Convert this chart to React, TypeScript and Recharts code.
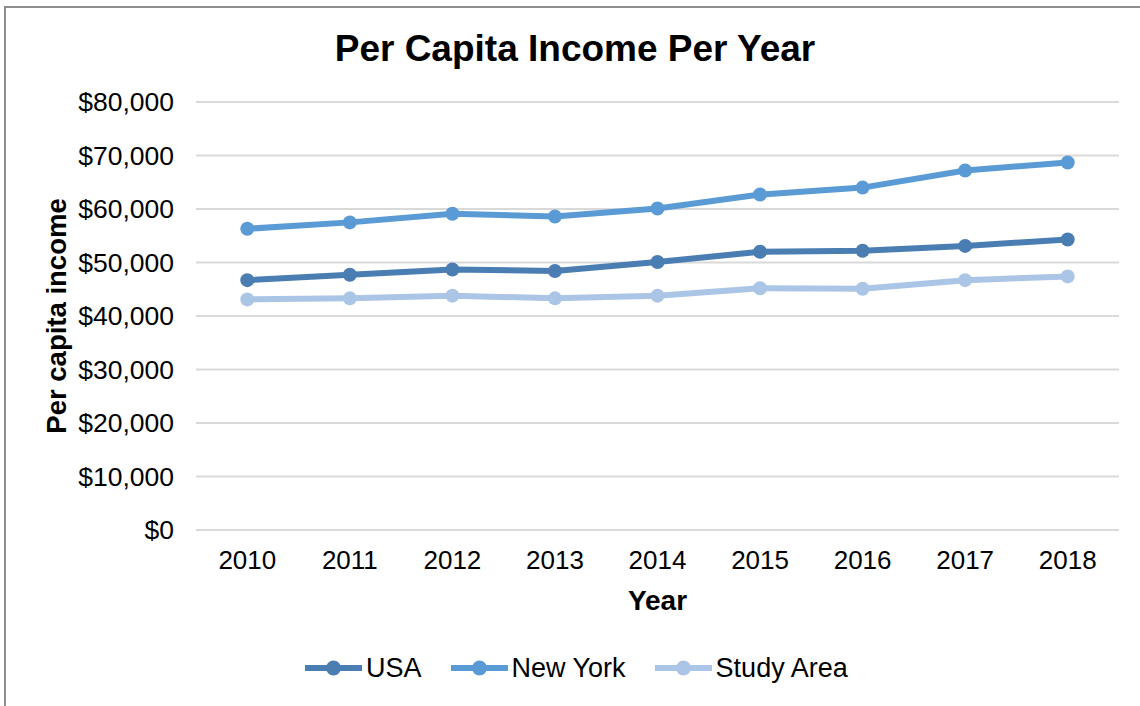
import React from 'react';
import { LineChart, Line, XAxis, YAxis, CartesianGrid } from 'recharts';

const years = ['2010', '2011', '2012', '2013', '2014', '2015', '2016', '2017', '2018'];
const usa = [46700, 47700, 48700, 48400, 50100, 52000, 52200, 53100, 54300];
const newYork = [56300, 57500, 59100, 58600, 60100, 62700, 64000, 67200, 68700];
const studyArea = [43100, 43300, 43800, 43300, 43800, 45200, 45100, 46700, 47400];
const yTicks = [0, 10000, 20000, 30000, 40000, 50000, 60000, 70000, 80000];

const seriesNames = ['USA', 'New York', 'Study Area'];
const seriesKeys = ['usa', 'newYork', 'studyArea'];
const seriesColors = ['#4A7EB3', '#5B9BD5', '#ABC5E6'];

const data = years.map((year, i) => ({
  year,
  usa: usa[i],
  newYork: newYork[i],
  studyArea: studyArea[i],
}));

const FONT = '"Liberation Sans", Arial, Helvetica, sans-serif';

const fmt = (v: number) => '$' + v.toLocaleString('en-US');

export default function App() {
  return (
    <div
      style={{
        position: 'absolute',
        left: 0,
        top: 0,
        width: 1140,
        height: 706,
        overflow: 'hidden',
        background: '#fff',
        fontFamily: FONT,
      }}
    >
      <div
        style={{
          position: 'absolute',
          left: 4,
          top: 6,
          width: 1200,
          height: 800,
          borderLeft: '2px solid #8E8E8E',
          borderTop: '2px solid #8E8E8E',
        }}
      />
      <div style={{ position: 'absolute', left: 0, top: 0 }}>
        <LineChart
          width={1140}
          height={706}
          data={data}
          margin={{ top: 102, right: 21, bottom: 96, left: 0 }}
        >
          <CartesianGrid vertical={false} stroke="#D9D9D9" strokeWidth={2} />
          <XAxis
            dataKey="year"
            height={80}
            padding={{ left: 51.3, right: 51.3 }}
            axisLine={{ stroke: '#D9D9D9', strokeWidth: 2 }}
            tickLine={false}
            tickSize={0}
            tickMargin={21}
            tick={{ fill: '#000', fontSize: 26, fontFamily: FONT }}
            label={{
              value: 'Year',
              position: 'insideBottom',
              offset: 0,
              style: { fill: '#000', fontSize: 28, fontWeight: 'bold', fontFamily: FONT },
            }}
          />
          <YAxis
            width={196}
            domain={[0, 80000]}
            ticks={yTicks}
            axisLine={false}
            tickLine={false}
            tickSize={0}
            tickMargin={22}
            tickFormatter={fmt}
            tick={{ fill: '#000', fontSize: 26.5, fontFamily: FONT }}
            label={{
              value: 'Per capita income',
              angle: -90,
              position: 'insideLeft',
              offset: 56,
              style: {
                fill: '#000',
                fontSize: 27.5,
                fontWeight: 'bold',
                fontFamily: FONT,
                textAnchor: 'middle',
              },
            }}
          />
          {[2, 0, 1].map((i) => (
            <Line
              key={seriesKeys[i]}
              type="linear"
              dataKey={seriesKeys[i]}
              name={seriesNames[i]}
              stroke={seriesColors[i]}
              strokeWidth={6}
              dot={{ r: 7, fill: seriesColors[i], stroke: seriesColors[i], strokeWidth: 0 }}
              activeDot={false}
              isAnimationActive={false}
            />
          ))}
        </LineChart>
      </div>
      <svg
        width={1140}
        height={706}
        style={{ position: 'absolute', left: 0, top: 0, pointerEvents: 'none' }}
      >
        <text
          x={575}
          y={61}
          textAnchor="middle"
          fontSize={37}
          fontWeight="bold"
          fontFamily={FONT}
          fill="#000"
        >
          Per Capita Income Per Year
        </text>
      </svg>
      <div
        style={{
          position: 'absolute',
          left: 305,
          top: 652,
          height: 32,
          display: 'flex',
          alignItems: 'center',
          gap: 29,
        }}
      >
        {seriesNames.map((name, i) => (
          <div key={name} style={{ display: 'flex', alignItems: 'center' }}>
            <svg width={57} height={18}>
              <line x1={0} y1={9} x2={57} y2={9} stroke={seriesColors[i]} strokeWidth={6} />
              <circle cx={28.5} cy={9} r={7.5} fill={seriesColors[i]} />
            </svg>
            <span style={{ marginLeft: 4, fontSize: 27, color: '#000', lineHeight: '32px' }}>
              {name}
            </span>
          </div>
        ))}
      </div>
    </div>
  );
}
